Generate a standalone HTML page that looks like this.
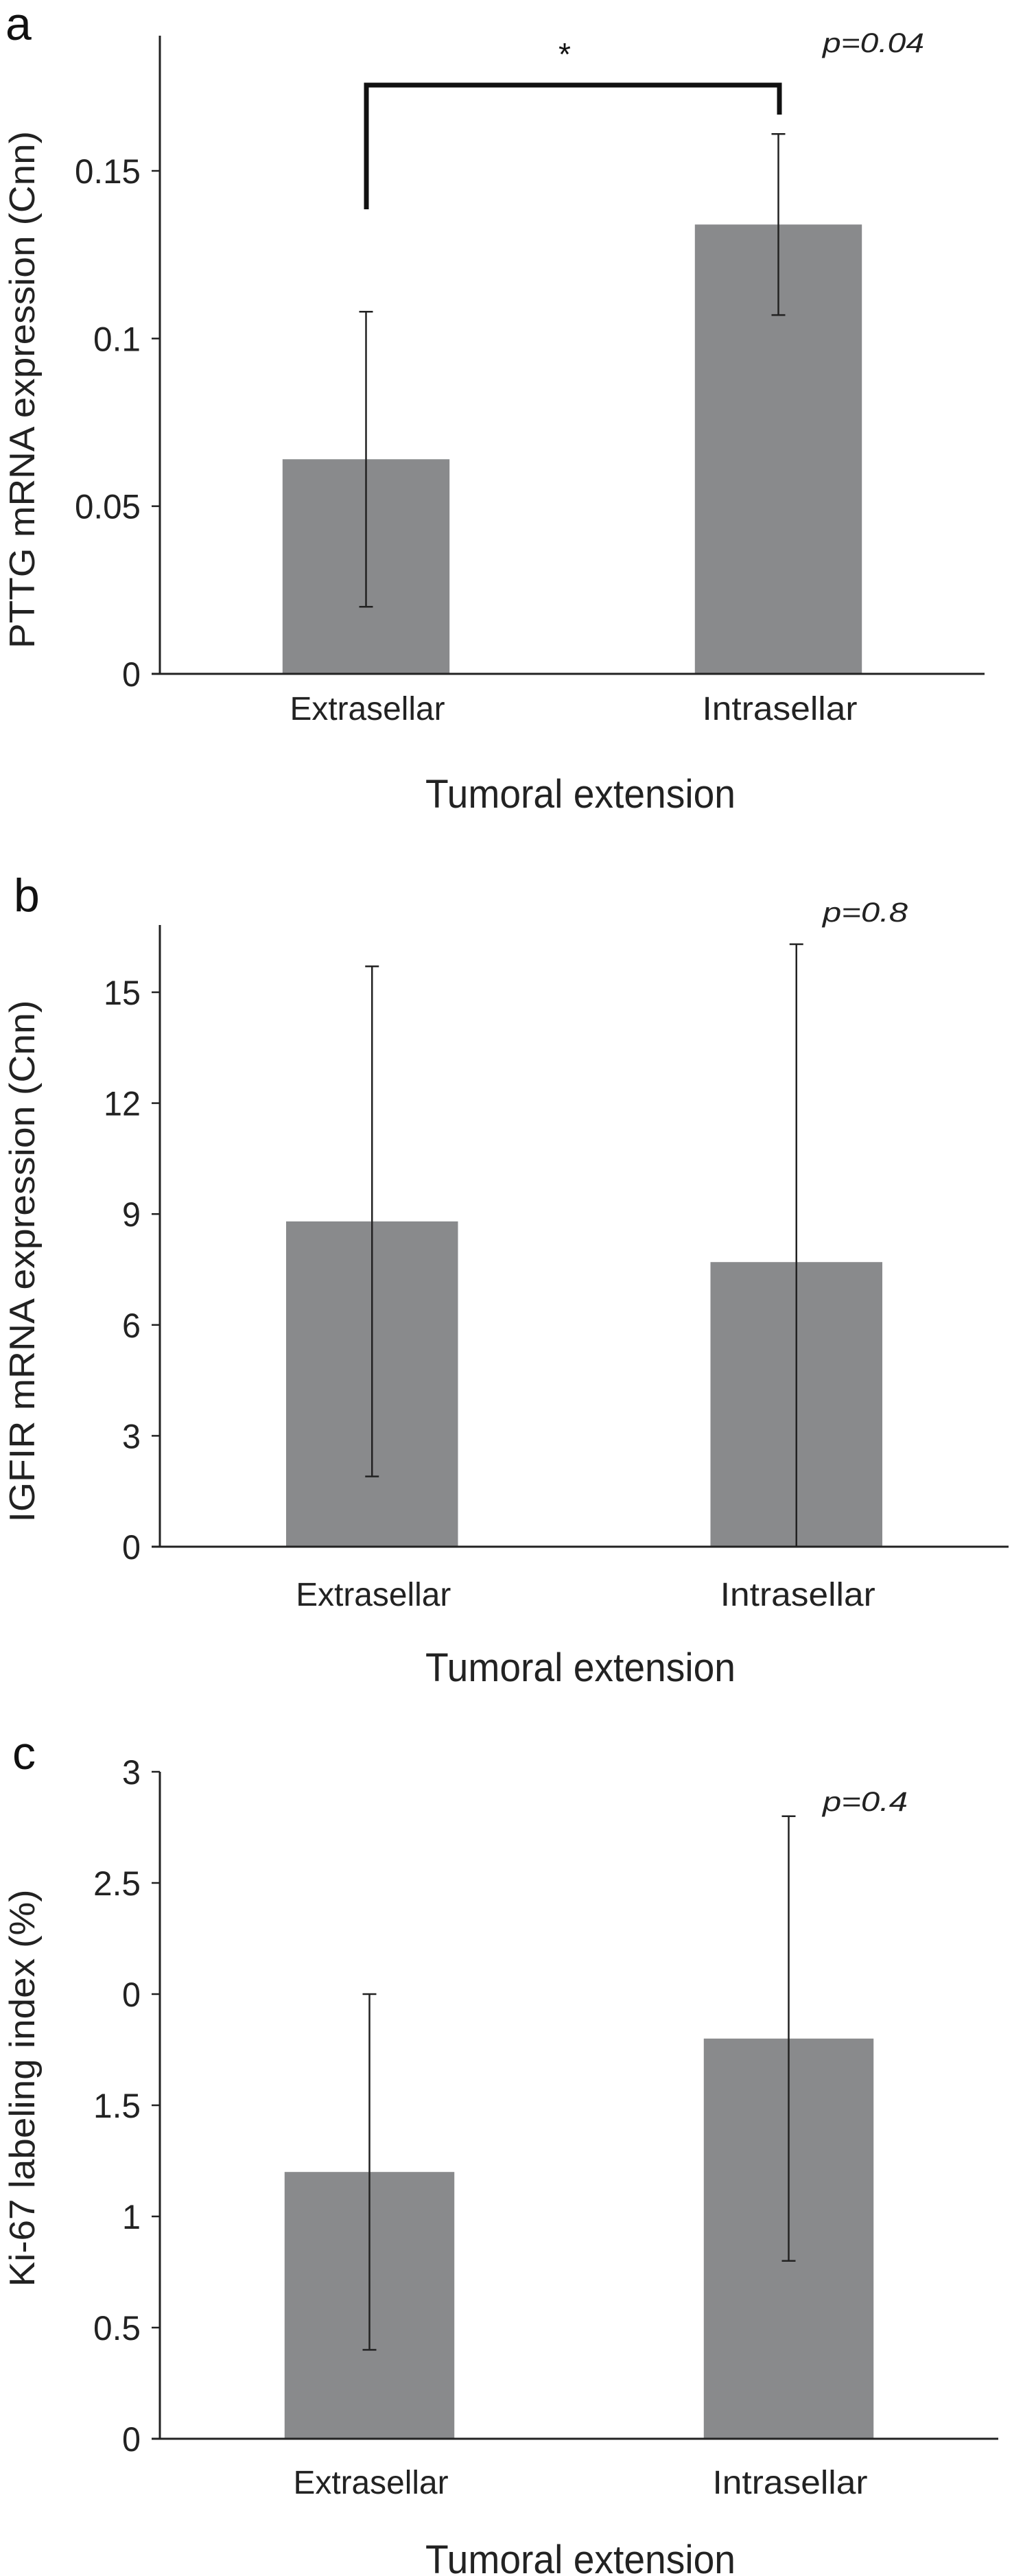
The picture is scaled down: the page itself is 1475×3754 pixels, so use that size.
<!DOCTYPE html>
<html><head><meta charset="utf-8"><style>
html,body{margin:0;padding:0;background:#fff;}
svg{display:block;font-family:"Liberation Sans",Arial,sans-serif;}
</style></head><body>
<svg id="fig" width="1475" height="3754" viewBox="0 0 1475 3754" xmlns="http://www.w3.org/2000/svg">
<rect width="1475" height="3754" fill="#fff"/>
</svg>
<script>
const categories = ["Extrasellar", "Intrasellar"];
const valuesA = [0.064, 0.134];
const lowA = [0.020, 0.107];
const highA = [0.108, 0.161];
const ticksA = [0, 0.05, 0.1, 0.15];
const tickLabelsA = ["0", "0.05", "0.1", "0.15"];
const valuesB = [8.8, 7.7];
const lowB = [1.9, 0];
const highB = [15.7, 16.3];
const ticksB = [0, 3, 6, 9, 12, 15];
const tickLabelsB = ["0", "3", "6", "9", "12", "15"];
const valuesC = [1.2, 1.8];
const lowC = [0.4, 0.8];
const highC = [2.0, 2.8];
const ticksC = [0, 0.5, 1, 1.5, 2, 2.5, 3];
const tickLabelsC = ["0", "0.5", "1", "1.5", "0", "2.5", "3"];

const NS = "http://www.w3.org/2000/svg";
const svg = document.getElementById("fig");
function el(tag, attrs, parent, text) {
  const e = document.createElementNS(NS, tag);
  for (const k in attrs) e.setAttribute(k, attrs[k]);
  if (text !== undefined) e.textContent = text;
  (parent || svg).appendChild(e);
  return e;
}

function panel(cfg) {
  const g = el("g", {});
  
  
  const y = v => cfg.zero - (v - cfg.dmin) * (cfg.zero - cfg.top) / (cfg.dmax - cfg.dmin);
  const band = (cfg.right - cfg.axisX) / categories.length;
  const xc = i => cfg.axisX + band * (i + 0.5);
  const bw = band * 0.405;

  // bars
  cfg.values.forEach((v, i) => {
    const r = el("rect", {x: xc(i) - bw / 2, y: y(v), width: bw, height: y(cfg.dmin) - y(v), fill: "#898a8c"}, g);
    
    
  });
  // error bars
  cfg.values.forEach((v, i) => {
    const eg = el("g", {stroke: "#222", "stroke-width": 2.5}, g);
    
    
    el("line", {x1: xc(i), x2: xc(i), y1: y(cfg.low[i]), y2: y(cfg.high[i])}, eg);
    el("line", {x1: xc(i) - 10, x2: xc(i) + 10, y1: y(cfg.high[i]), y2: y(cfg.high[i])}, eg);
    if (cfg.low[i] > cfg.dmin) el("line", {x1: xc(i) - 10, x2: xc(i) + 10, y1: y(cfg.low[i]), y2: y(cfg.low[i])}, eg);
  });
  // axes
  const ya = el("line", {x1: cfg.axisX, x2: cfg.axisX, y1: cfg.axisTop, y2: cfg.zero + 1, stroke: "#222", "stroke-width": 3}, g);
  
  
  const xa = el("line", {x1: cfg.axisX - 12, x2: cfg.right, y1: cfg.zero, y2: cfg.zero, stroke: "#222", "stroke-width": 3}, g);
  
  
  cfg.ticks.forEach((t, i) => {
    el("line", {x1: cfg.axisX - 12, x2: cfg.axisX, y1: y(t), y2: y(t), stroke: "#222", "stroke-width": 2.5}, g);
    const lab = cfg.tickLabels[i];
    const tl = el("text", {x: cfg.axisX - 28, y: y(t) + 18, "font-size": 50, "text-anchor": "end", fill: "#222",
      textLength: lab.length * 27 + (lab.indexOf(".") >= 0 ? -12 : 0), lengthAdjust: "spacingAndGlyphs"}, g, lab);
    
    
  });
  categories.forEach((c, i) => {
    const t = el("text", {x: xc(i) + 2, y: cfg.catY, "font-size": 48, "text-anchor": "middle", fill: "#222",
      textLength: 226, lengthAdjust: "spacingAndGlyphs"}, g, c);
    
    
  });
  const xt = el("text", {x: 846, y: cfg.xTitleY, "font-size": 58, "text-anchor": "middle", fill: "#222",
    textLength: 452, lengthAdjust: "spacingAndGlyphs"}, g, "Tumoral extension");
  
  
  const yt = el("text", {x: 0, y: 0, "font-size": 52, "text-anchor": "middle", fill: "#222",
    textLength: cfg.yTitleLen, lengthAdjust: "spacingAndGlyphs",
    transform: "translate(" + 50 + "," + cfg.yTitleC + ") rotate(-90)"}, g, cfg.yTitle);
  
  
  const pl = el("text", {x: cfg.letterX, y: cfg.letterY, "font-size": 68, fill: "#111"}, g, cfg.letter);
  
  
  const pv = el("text", {x: 1199, y: cfg.pY, "font-size": 40, "font-style": "italic", fill: "#222",
    textLength: cfg.pLen, lengthAdjust: "spacingAndGlyphs"}, g, cfg.p);
  
  
  return {g, xc};
}

const pa = panel({name: "panel-a", axisX: 233, axisTop: 52, top: 249, zero: 982, right: 1435, dmin: 0, dmax: 0.15,
  values: valuesA, low: lowA, high: highA, ticks: ticksA, tickLabels: tickLabelsA,
  catY: 1049, xTitleY: 1177, yTitle: "PTTG mRNA expression (Cnn)", yTitleC: 568, yTitleLen: 754,
  letter: "a", letterX: 8, letterY: 58, p: "p=0.04", pY: 76, pLen: 148});
const pb = panel({name: "panel-b", axisX: 233, axisTop: 1348, top: 1446, zero: 2254, right: 1470, dmin: 0, dmax: 15,
  values: valuesB, low: lowB, high: highB, ticks: ticksB, tickLabels: tickLabelsB,
  catY: 2340, xTitleY: 2450, yTitle: "IGFIR mRNA expression (Cnn)", yTitleC: 1838, yTitleLen: 761,
  letter: "b", letterX: 20, letterY: 1328, p: "p=0.8", pY: 1343, pLen: 124});
const pc = panel({name: "panel-c", axisX: 233, axisTop: 2582, top: 2582, zero: 3554, right: 1455, dmin: 0, dmax: 3,
  values: valuesC, low: lowC, high: highC, ticks: ticksC, tickLabels: tickLabelsC,
  catY: 3634, xTitleY: 3750, yTitle: "Ki-67 labeling index (%)", yTitleC: 3043, yTitleLen: 579,
  letter: "c", letterX: 18, letterY: 2578, p: "p=0.4", pY: 2639, pLen: 124});

// significance bracket on panel a
const br = el("path", {d: "M534 305 V124 H1136 V167", fill: "none", stroke: "#111", "stroke-width": 7}, pa.g);


const st = el("text", {x: 823, y: 95, "font-size": 46, "text-anchor": "middle", fill: "#111"}, pa.g, "*");


</script>
</body></html>
